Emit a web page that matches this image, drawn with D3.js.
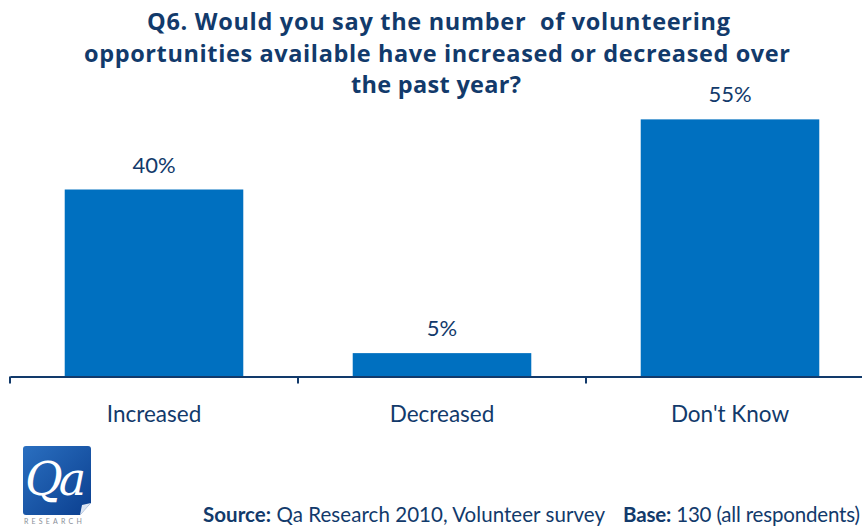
<!DOCTYPE html>
<html><head><meta charset="utf-8">
<script src="https://cdn.jsdelivr.net/npm/d3@7"></script>
<style>body{margin:0;background:#fff}svg{display:block}</style>
</head><body>
<script>
const categories = ["Increased", "Decreased", "Don't Know"];
const values = [40, 5, 55];
const valueLabels = ["40%", "5%", "55%"];
const titleLines = ["Q6. Would you say the number  of volunteering", "opportunities available have increased or decreased over", "the past year?"];
const sourceText = ["Source:", " Qa Research 2010, Volunteer survey"];
const baseText = ["Base:", " 130 (all respondents)"];

const W = 862, H = 526;
const navy = "#123a6b", blue = "#0070c0";
const font = "Lato, 'Open Sans', sans-serif";
const svg = d3.select("body").append("svg").attr("width", W).attr("height", H);

const x = d3.scaleBand().domain(categories).range([10, 874]).paddingInner(0).paddingOuter(0);
const y = d3.scaleLinear().domain([0, 100]).range([376.5, 376.5 - 467.5]);

// title
const titleSpans = [[147, 583], [84, 706], [351, 170]];
svg.append("g").selectAll("text").data(titleLines).join("text")
  .attr("x", (d, i) => titleSpans[i][0]).attr("y", (d, i) => 30 + i * 31.5)
  .attr("textLength", (d, i) => titleSpans[i][1]).attr("lengthAdjust", "spacing")
  .attr("font-family", "'Open Sans', Lato, sans-serif").attr("font-weight", "bold")
  .attr("font-size", 23.5).attr("fill", navy).style("white-space", "pre").text(d => d);

// bars
const bw = x.bandwidth() * 0.62;
svg.append("g").selectAll("rect").data(values).join("rect")
  .attr("x", (d, i) => x(categories[i]) + (x.bandwidth() - bw) / 2)
  .attr("y", d => y(d)).attr("width", bw).attr("height", d => y(0) - y(d))
  .attr("fill", blue);

// value labels
svg.append("g").selectAll("text").data(values).join("text")
  .attr("x", (d, i) => x(categories[i]) + x.bandwidth() / 2)
  .attr("y", d => y(d) - 17)
  .attr("text-anchor", "middle").attr("font-family", font).attr("font-size", 22)
  .attr("fill", navy).text((d, i) => valueLabels[i]);

// axis
const axis = d3.axisBottom(x).tickSize(0).tickPadding(30);
const ag = svg.append("g").attr("transform", `translate(0,${y(0)})`).call(axis);
ag.select(".domain").attr("stroke", navy).attr("stroke-width", 2);
ag.selectAll(".tick text").attr("font-family", font).attr("font-size", 22.5).attr("fill", navy);
svg.append("g").selectAll("line").data(categories.concat(["end"])).join("line")
  .attr("x1", (d, i) => i < 3 ? x(d) : x(categories[2]) + x.bandwidth())
  .attr("x2", (d, i) => i < 3 ? x(d) : x(categories[2]) + x.bandwidth())
  .attr("y1", y(0)).attr("y2", y(0) + 7).attr("stroke", navy).attr("stroke-width", 2);

// logo
const defs = svg.append("defs");
const lg = defs.append("linearGradient").attr("id", "lg").attr("x1", 0).attr("y1", 0).attr("x2", 1).attr("y2", 1);
lg.append("stop").attr("offset", 0).attr("stop-color", "#2a6fc0");
lg.append("stop").attr("offset", 1).attr("stop-color", "#0b3f8f");
svg.append("path").attr("d", "M26,446 L88,446 Q91,446 91,449 L91,503 L80,515 L26,515 Q23,515 23,512 L23,449 Q23,446 26,446 Z").attr("fill", "url(#lg)");
svg.append("path").attr("d", "M91,503 L80,515 L82,505 Z").attr("fill", "#dde6f2");
svg.append("text").attr("x", 25).attr("y", 495).attr("font-family", "'DejaVu Serif', serif").attr("font-style", "italic")
  .attr("font-size", 46).attr("fill", "#fff").attr("letter-spacing", -4).text("Qa");
svg.append("text").attr("x", 24).attr("y", 524).attr("font-family", font).attr("font-size", 7)
  .attr("fill", "#8a8f99").attr("letter-spacing", 3.2).text("RESEARCH");

// source
function srcText(parts, x0, len) {
  const t = svg.append("text").attr("x", x0).attr("y", 522).attr("font-family", font).attr("font-size", 20.5)
    .attr("fill", navy).attr("textLength", len).attr("lengthAdjust", "spacing").style("white-space", "pre");
  t.append("tspan").attr("font-weight", "bold").text(parts[0]);
  t.append("tspan").text(parts[1]);
}
srcText(sourceText, 203, 402);
srcText(baseText, 623, 237);
</script>
</body></html>
